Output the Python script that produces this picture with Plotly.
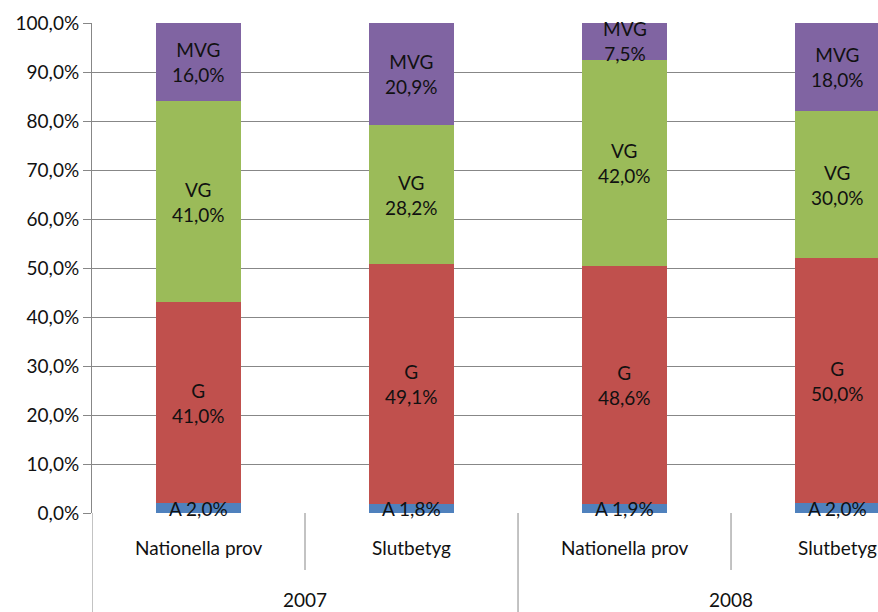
import plotly.graph_objects as go

categories = ["Nationella prov", "Slutbetyg", "Nationella prov", "Slutbetyg"]
years = ["2007", "2008"]
grade_names = ["A", "G", "VG", "MVG"]
A = [2.0, 1.8, 1.9, 2.0]
G = [41.0, 49.1, 48.6, 50.0]
VG = [41.0, 28.2, 42.0, 30.0]
MVG = [16.0, 20.9, 7.5, 18.0]
y_ticks = list(range(0, 101, 10))

series = [A, G, VG, MVG]
colors = ["#4F81BD", "#C0504D", "#9BBB59", "#8064A2"]
FONT = "Lato, Open Sans, sans-serif"
FS = 19
TXT = "#111111"
GRID = "#878787"


def fmt(v):
    return f"{v:.1f}".replace(".", ",") + "%"


x = list(range(len(categories)))
fig = go.Figure()
for name, vals, col in zip(grade_names, series, colors):
    fig.add_trace(go.Bar(x=x, y=vals, name=name, width=0.395,
                         marker=dict(color=col, line=dict(width=0)),
                         showlegend=False, hoverinfo="skip"))

annotations = []
base = [0.0] * len(categories)
for name, vals in zip(grade_names, series):
    for i, v in enumerate(vals):
        mid = base[i] + v / 2
        if name == "A":
            text = f"{name} {fmt(v)}"
        else:
            text = f"{name}<br>{fmt(v)}"
        annotations.append(dict(x=i, y=mid, xref="x", yref="y", text=text,
                                showarrow=False, yanchor="middle",
                                font=dict(family=FONT, size=FS, color=TXT)))
        base[i] += v

# category labels
for i, c in enumerate(categories):
    annotations.append(dict(x=i, y=-0.0714, xref="x", yref="paper", text=c,
                            showarrow=False, yanchor="middle",
                            font=dict(family=FONT, size=FS, color=TXT)))
# year labels
for j, yr in enumerate(years):
    annotations.append(dict(x=2 * j + 0.5, y=-0.176, xref="x", yref="paper", text=yr,
                            showarrow=False, yanchor="middle",
                            font=dict(family=FONT, size=FS, color=TXT)))

shapes = []
# category dividers (short) and year dividers (long)
for k in range(len(categories) + 1):
    xb = k - 0.5
    long = (k % 2 == 0)
    shapes.append(dict(type="line", xref="x", yref="paper", x0=xb, x1=xb,
                       y0=0, y1=-0.21 if long else -0.1163,
                       line=dict(color=GRID, width=1)))

fig.update_layout(
    width=878, height=612,
    margin=dict(l=92, r=0, t=23, b=99, autoexpand=False),
    plot_bgcolor="white", paper_bgcolor="white",
    barmode="stack", bargap=0,
    annotations=annotations, shapes=shapes,
    xaxis=dict(range=[-0.5, 3.19], showticklabels=False, showgrid=False,
               zeroline=False, showline=False, ticks="", automargin=False),
    yaxis=dict(range=[0, 100], tickvals=y_ticks, ticktext=[fmt(v) for v in y_ticks],
               showgrid=True, gridcolor=GRID, gridwidth=1, zeroline=False,
               showline=True, linecolor=GRID, linewidth=1, automargin=False,
               ticks="outside", ticklen=8, tickcolor=GRID,
               tickfont=dict(family=FONT, size=FS, color=TXT)),
)
fig.write_html("out.html",
               config={"displayModeBar": False},
               post_script="document.body.style.margin='0';document.body.style.overflow='hidden';")
